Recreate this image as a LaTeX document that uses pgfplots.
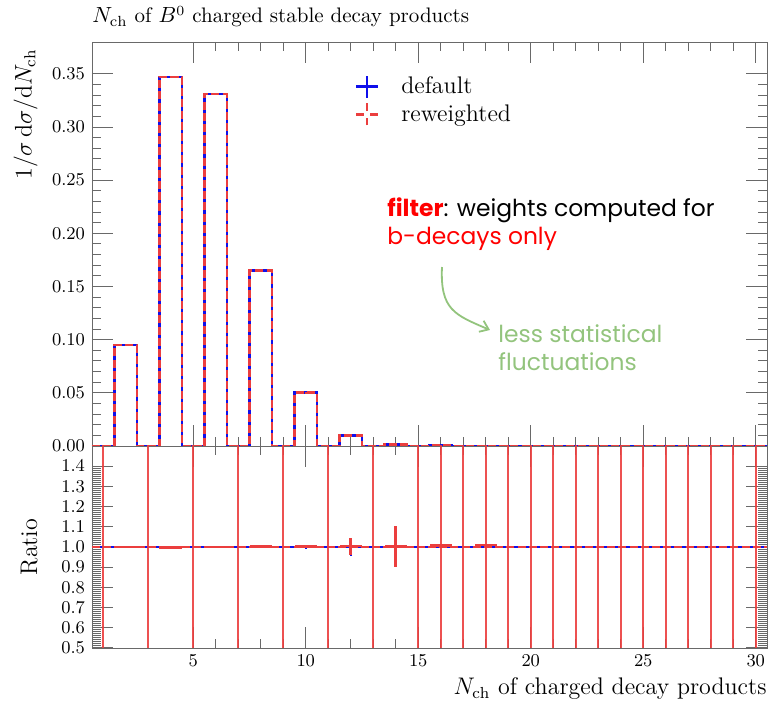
\documentclass[border=0pt]{standalone}
\usepackage{pgfplots}
\pgfplotsset{compat=1.18}
\usepackage{fontspec}
\usetikzlibrary{arrows.meta}
\newfontfamily\annfont{Poppins}
\definecolor{myred}{RGB}{235,62,62}
\definecolor{myblue}{RGB}{15,15,235}
\definecolor{annred}{RGB}{255,0,0}
\definecolor{anngreen}{RGB}{147,196,125}
\definecolor{axgray}{RGB}{105,105,105}
\pgfplotsset{rivet/.style={
  scale only axis, width=337.5pt,
  xmin=0.5, xmax=30.5,
  xtick={5,10,15,20,25,30}, minor x tick num=4,
  tick align=inside,
  major tick length=10.5pt, minor tick length=4.5pt,
  axis line style={axgray},
  every tick/.style={axgray, line width=0.5pt},
  tick label style={font=\fontsize{9.5}{11}\selectfont},
  label style={font=\fontsize{12}{14}\selectfont},
  scaled y ticks=false,
}}
\begin{document}
\begin{tikzpicture}
% ---------------- main panel ----------------
\begin{axis}[rivet, name=main, at={(0,101pt)}, anchor=south west, height=202pt,
  ymin=0, ymax=0.38,
  ytick={0,0.05,0.1,0.15,0.2,0.25,0.3,0.35}, minor y tick num=4,
  xticklabels={},
  yticklabel style={/pgf/number format/.cd, fixed, fixed zerofill, precision=2},
  ylabel={$1/\sigma\,\mathrm{d}\sigma/\mathrm{d}N_{\mathrm{ch}}$},
  ylabel style={at={(axis description cs:-0.07,1)}, anchor=south east},
  title={$N_{\mathrm{ch}}$ of $B^0$ charged stable decay products},
  title style={at={(rel axis cs:0,1)}, anchor=base west, yshift=3.5pt, inner sep=0pt, font=\fontsize{10.5}{12}\selectfont},
  legend style={draw=none, fill=none, at={(axis description cs:0.38,0.935)}, anchor=north west,
    font=\fontsize{12}{14}\selectfont, row sep=0pt,
    /tikz/every odd column/.append style={column sep=9pt}},
  legend cell align=left,
]
\addplot[myblue, line width=1.4pt, const plot,
  legend image code/.code={\draw[myblue, line width=1.2pt] (-5.5pt,0pt) -- (5.5pt,0pt) (0pt,-5.5pt) -- (0pt,5.5pt);}]
  coordinates {(0.5,0)(1.5,0.095)(2.5,0)(3.5,0.347)(4.5,0)(5.5,0.331)(6.5,0)(7.5,0.165)(8.5,0)
  (9.5,0.050)(10.5,0)(11.5,0.0095)(12.5,0)(13.5,0.0012)(14.5,0)(15.5,0.0002)(16.5,0)(17.5,0.00005)(18.5,0)(30.5,0)};
\addlegendentry{default}
\addplot[myred, line width=1.4pt, const plot, dash pattern=on 4pt off 1.6pt,
  legend image code/.code={\draw[myred, line width=1.2pt] (-5.5pt,0pt) -- (-1.6pt,0pt) (1.6pt,0pt) -- (5.5pt,0pt) (0pt,-5.5pt) -- (0pt,-1.6pt) (0pt,1.6pt) -- (0pt,5.5pt);}]
  coordinates {(0.5,0)(1.5,0.095)(2.5,0)(3.5,0.347)(4.5,0)(5.5,0.331)(6.5,0)(7.5,0.165)(8.5,0)
  (9.5,0.050)(10.5,0)(11.5,0.0095)(12.5,0)(13.5,0.0012)(14.5,0)(15.5,0.0002)(16.5,0)(17.5,0.00005)(18.5,0)(30.5,0)};
\addlegendentry{reweighted}
\addplot[draw=none, mark=none, forget plot,
  error bars/.cd, y dir=both, y explicit, error mark=none,
  error bar style={draw=myred, line width=0.8pt, solid}]
  coordinates {(2,0.095) +- (0,0.0007) (4,0.347) +- (0,0.0009) (6,0.331) +- (0,0.0009) (8,0.165) +- (0,0.0007) (10,0.050) +- (0,0.0004)};
\node[anchor=base west, inner sep=0pt, font=\annfont\fontsize{11.7}{13}\selectfont] at (rel axis cs:0.437,0.567)
  {\textcolor{annred}{\bfseries filter}: weights computed for};
\node[anchor=base west, inner sep=0pt, font=\annfont\fontsize{11.7}{13}\selectfont, text=annred] at (rel axis cs:0.437,0.4975)
  {b-decays only};
\draw[anngreen, line width=0.9pt, -{Straight Barb[length=4pt,width=6pt]}]
  (rel axis cs:0.5185,0.443) .. controls (rel axis cs:0.5156,0.3366) and (rel axis cs:0.5378,0.3243) .. (rel axis cs:0.5896,0.2871);
\node[anchor=base west, inner sep=0pt, font=\annfont\fontsize{11.7}{13}\selectfont, text=anngreen] at (rel axis cs:0.6015,0.255)
  {less statistical};
\node[anchor=base west, inner sep=0pt, font=\annfont\fontsize{11.7}{13}\selectfont, text=anngreen] at (rel axis cs:0.6015,0.188)
  {fluctuations};
\end{axis}
% ---------------- ratio panel ----------------
\begin{axis}[rivet, name=ratio, at={(0,0)}, anchor=south west, height=101pt,
  ymin=0.5, ymax=1.5,
  ytick={0.5,0.6,0.7,0.8,0.9,1.0,1.1,1.2,1.3,1.4}, minor y tick num=9,
  yticklabel style={/pgf/number format/.cd, fixed, fixed zerofill, precision=1},
  ylabel={Ratio},
  ylabel style={at={(axis description cs:-0.07,0.5)}, anchor=south},
  xlabel={$N_{\mathrm{ch}}$ of charged decay products},
  xlabel style={at={(rel axis cs:1,0)}, anchor=base east, yshift=-23.5pt, inner sep=0pt},
]
\addplot[myblue, line width=1.4pt] coordinates {(0.5,1)(30.5,1)};
\addplot[myred, line width=1.4pt, dash pattern=on 4pt off 1.6pt] coordinates {(0.5,1)(30.5,1)};
% empty reference bins: unbounded uncertainty
\addplot[draw=none, mark=none,
  error bars/.cd, y dir=both, y explicit, error mark=none,
  error bar style={draw=myred, line width=1.2pt, solid, opacity=0.9}]
  coordinates {(1,1) +- (0,1) (3,1) +- (0,1) (5,1) +- (0,1) (7,1) +- (0,1) (9,1) +- (0,1) (11,1) +- (0,1)
  (13,1) +- (0,1) (15,1) +- (0,1) (16,1) +- (0,1) (17,1) +- (0,1) (18,1) +- (0,1) (19,1) +- (0,1)
  (20,1) +- (0,1) (21,1) +- (0,1) (22,1) +- (0,1) (23,1) +- (0,1) (24,1) +- (0,1) (25,1) +- (0,1)
  (26,1) +- (0,1) (27,1) +- (0,1) (28,1) +- (0,1) (29,1) +- (0,1) (30,1) +- (0,1)};
% default ratio uncertainties
\addplot[draw=none, mark=none,
  error bars/.cd, y dir=both, y explicit, error mark=none,
  error bar style={draw=myblue, line width=1.1pt, solid}]
  coordinates {(2,1) +- (0,0.003) (4,1) +- (0,0.002) (6,1) +- (0,0.002) (8,1) +- (0,0.004) (10,1) +- (0,0.008) (12,1) +- (0,0.045) (14,1) +- (0,0.095)};
% reweighted / default
\addplot[draw=none, mark=none,
  error bars/.cd, x dir=both, x explicit, y dir=both, y explicit, error mark=none,
  error bar style={draw=myred, line width=1.3pt, solid}]
  coordinates {(2,1.000) +- (0.5,0.003) (4,0.998) +- (0.5,0.002) (6,1.000) +- (0.5,0.002) (8,1.003) +- (0.5,0.004)
  (10,1.003) +- (0.5,0.008) (12,1.004) +- (0.5,0.042) (14,1.002) +- (0.5,0.1) (16,1.006) +- (0.5,0) (18,1.010) +- (0.5,0)};
\end{axis}
\pgfresetboundingbox
\path[use as bounding box] (-46pt,-28pt) rectangle (342.5pt,324pt);
\end{tikzpicture}
\end{document}
